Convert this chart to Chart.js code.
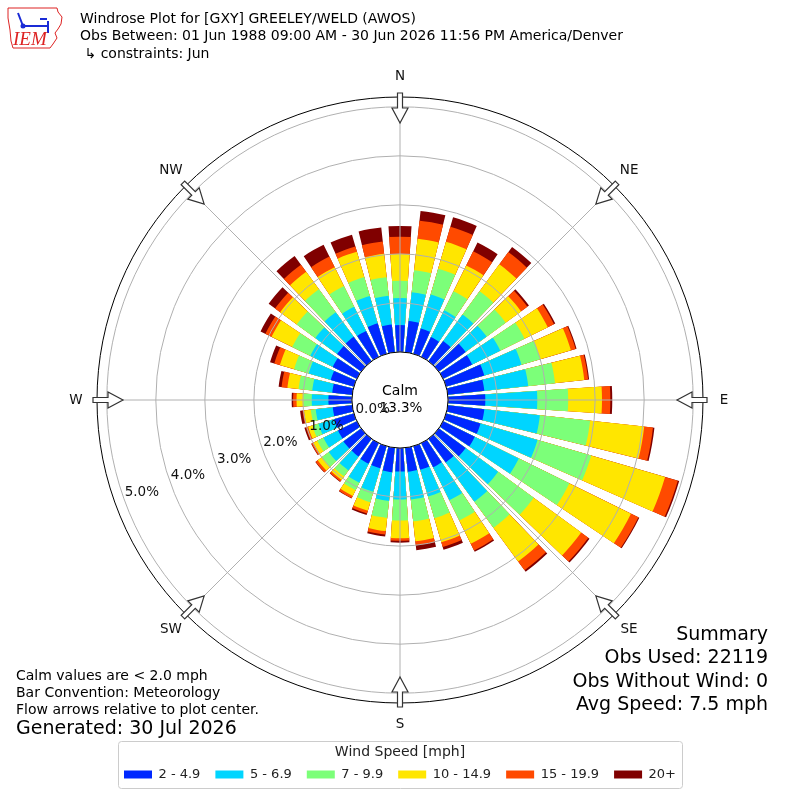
<!DOCTYPE html>
<html>
<head>
<meta charset="utf-8">
<title>Windrose GXY</title>
<script src="https://cdn.jsdelivr.net/npm/chart.js@4.4.1/dist/chart.umd.min.js"></script>
<style>
  html, body { margin: 0; padding: 0; background: #fff; }
  #wrap { width: 800px; height: 800px; }
</style>
</head>
<body>
<div id="wrap"><canvas id="rose" width="800" height="800"></canvas></div>
<script>
// bar centres, degrees clockwise from north (direction wind blows from)
const directions = [0, 10, 20, 30, 40, 50, 60, 70, 80, 90, 100, 110, 120, 130, 140, 150, 160, 170,
  180, 190, 200, 210, 220, 230, 240, 250, 260, 270, 280, 290, 300, 310, 320, 330, 340, 350]

const speedBins = ['2 - 4.9', '5 - 6.9', '7 - 9.9', '10 - 14.9', '15 - 19.9', '20+']
const speedColors = ['#0028ff', '#00d5ff', '#7cff79', '#ffe600', '#ff4a00', '#800000']

// percent of observations in each speed bin, one value per direction
const pct2to5 = [0.55, 0.64, 0.54, 0.45, 0.51, 0.68, 0.66, 0.81, 0.75, 0.76, 0.75, 0.73, 0.72, 0.68, 0.60, 0.55, 0.50, 0.49,
  0.48, 0.50, 0.47, 0.47, 0.45, 0.45, 0.43, 0.42, 0.40, 0.48, 0.41, 0.49, 0.55, 0.61, 0.62, 0.59, 0.65, 0.57]
const pct5to7 = [0.55, 0.59, 0.72, 0.61, 0.67, 0.53, 0.64, 0.79, 0.90, 1.06, 1.14, 1.21, 1.00, 0.82, 0.99, 0.75, 0.57, 0.57,
  0.57, 0.59, 0.50, 0.43, 0.35, 0.37, 0.33, 0.33, 0.35, 0.34, 0.41, 0.47, 0.51, 0.55, 0.62, 0.55, 0.58, 0.59]
const pct7to10 = [0.35, 0.45, 0.55, 0.43, 0.59, 0.48, 0.55, 0.40, 0.55, 0.63, 1.03, 1.14, 1.15, 0.90, 0.66, 0.46, 0.46, 0.45,
  0.43, 0.35, 0.22, 0.17, 0.15, 0.17, 0.14, 0.13, 0.10, 0.17, 0.28, 0.31, 0.41, 0.47, 0.58, 0.47, 0.40, 0.38]
const pct10to15 = [0.55, 0.65, 0.57, 0.59, 0.68, 0.39, 0.53, 0.65, 0.60, 0.69, 1.11, 1.57, 1.40, 1.20, 0.85, 0.53, 0.51, 0.41,
  0.36, 0.27, 0.18, 0.13, 0.09, 0.11, 0.09, 0.09, 0.14, 0.14, 0.23, 0.30, 0.47, 0.42, 0.44, 0.43, 0.54, 0.48]
const pct15to20 = [0.35, 0.37, 0.32, 0.32, 0.31, 0.16, 0.14, 0.10, 0.08, 0.17, 0.18, 0.27, 0.17, 0.18, 0.22, 0.15, 0.10, 0.08,
  0.05, 0.07, 0.06, 0.05, 0.04, 0.05, 0.04, 0.05, 0.03, 0.07, 0.12, 0.12, 0.14, 0.13, 0.18, 0.24, 0.11, 0.25]
const pct20up = [0.22, 0.20, 0.20, 0.20, 0.13, 0.04, 0.03, 0.02, 0.02, 0.04, 0.03, 0.03, 0.02, 0.03, 0.04, 0.03, 0.06, 0.10,
  0.04, 0.04, 0.03, 0.01, 0.01, 0.01, 0.01, 0.03, 0.05, 0.03, 0.06, 0.09, 0.11, 0.16, 0.22, 0.27, 0.25, 0.29]

const ringTicks = [0, 1, 2, 3, 4, 5]
const compassLabels = ['N', 'NE', 'E', 'SE', 'S', 'SW', 'W', 'NW']
const calmPct = 13.3

const titleLines = [
  'Windrose Plot for [GXY] GREELEY/WELD (AWOS)',
  'Obs Between: 01 Jun 1988 09:00 AM - 30 Jun 2026 11:56 PM America/Denver',
  ' \u21b3 constraints: Jun'
]
const noteLines = ['Calm values are < 2.0 mph', 'Bar Convention: Meteorology', 'Flow arrows relative to plot center.']
const generatedLine = 'Generated: 30 Jul 2026'
const summaryLines = ['Summary', 'Obs Used: 22119', 'Obs Without Wind: 0', 'Avg Speed: 7.5 mph']

const FONT = "'DejaVu Sans', sans-serif"
const barAngle = 7.6
const gapAngle = 2.4
const deg = Math.PI / 180

// every direction gets a bar slot and a blank gap slot so the bars stand apart
const labels = []
directions.forEach(d => { labels.push(d + '\u00b0', '') })

const speedSeries = [pct2to5, pct5to7, pct7to10, pct10to15, pct15to20, pct20up]
let running = directions.map(() => 0)
const datasets = speedSeries.map((series, k) => {
  running = running.map((v, i) => v + series[i])
  const data = []
  running.forEach(v => { data.push(+v.toFixed(2), 0) })
  return {
    label: speedBins[k],
    data: data,
    angle: labels.map((_, i) => (i % 2 ? gapAngle : barAngle)),
    backgroundColor: labels.map((_, i) => (i % 2 ? 'rgba(0,0,0,0)' : speedColors[k])),
    borderWidth: 0
  }
})

function at(scale, bearing, r, w) {
  const a = bearing * deg
  w = w || 0
  return [scale.xCenter + r * Math.sin(a) + w * Math.cos(a), scale.yCenter - r * Math.cos(a) + w * Math.sin(a)]
}

function text(ctx, str, x, y, size, align, color) {
  ctx.font = size + 'px ' + FONT
  ctx.textAlign = align || 'left'
  ctx.textBaseline = 'middle'
  ctx.fillStyle = color || '#000'
  ctx.fillText(str, x, y)
}

function drawLogo(ctx) {
  ctx.save()
  ctx.strokeStyle = '#d22'
  ctx.lineWidth = 1
  ctx.beginPath()
  const outline = [[8, 8], [57, 8], [58, 12], [62, 17], [61, 24], [58, 29], [55, 33], [57, 38], [53, 44], [50, 48],
    [13, 48], [11, 41], [10, 30], [8, 18]]
  outline.forEach(([x, y], i) => (i ? ctx.lineTo(x, y) : ctx.moveTo(x, y)))
  ctx.closePath()
  ctx.stroke()
  ctx.strokeStyle = '#1a2bd6'
  ctx.lineWidth = 2
  ctx.beginPath()
  ctx.moveTo(23, 26); ctx.lineTo(49, 26)
  ctx.moveTo(48, 21); ctx.lineTo(48, 33)
  ctx.moveTo(18, 13); ctx.lineTo(23, 26)
  ctx.moveTo(40, 19); ctx.lineTo(47, 19)
  ctx.stroke()
  ctx.fillStyle = '#1a2bd6'
  ctx.beginPath(); ctx.arc(23, 26, 2.5, 0, 2 * Math.PI); ctx.fill()
  ctx.font = "italic 19px 'Liberation Serif', serif"
  ctx.textAlign = 'left'
  ctx.textBaseline = 'alphabetic'
  ctx.fillStyle = '#d22'
  ctx.fillText('IEM', 13, 45)
  ctx.restore()
}

const roseDecor = {
  id: 'roseDecor',
  afterDatasetsDraw(chart) {
    const s = chart.scales.r
    const ctx = chart.ctx
    ctx.save()
    ctx.strokeStyle = '#b0b0b0'
    ctx.lineWidth = 1
    for (let b = 0; b < 360; b += 45) {
      const [x, y] = at(s, b, s.drawingArea)
      ctx.beginPath()
      ctx.moveTo(s.xCenter, s.yCenter)
      ctx.lineTo(x, y)
      ctx.stroke()
    }
    ctx.restore()
  },
  afterDraw(chart) {
    const s = chart.scales.r
    const ctx = chart.ctx
    const R = s.drawingArea
    ctx.save()

    // outer frame
    ctx.strokeStyle = '#000'
    ctx.lineWidth = 1
    ctx.beginPath()
    ctx.arc(s.xCenter, s.yCenter, R, 0, 2 * Math.PI)
    ctx.stroke()

    // calm circle
    const rc = s.getDistanceFromCenterForValue(0)
    ctx.fillStyle = '#fff'
    ctx.beginPath()
    ctx.arc(s.xCenter, s.yCenter, rc, 0, 2 * Math.PI)
    ctx.fill()
    ctx.stroke()
    text(ctx, 'Calm', s.xCenter, s.yCenter - 9, 14, 'center')
    text(ctx, calmPct.toFixed(1) + '%', s.xCenter + 1, s.yCenter + 8, 13.5, 'center')

    // ring labels along a line just below west
    ringTicks.forEach(v => {
      const [x, y] = at(s, 250.3, s.getDistanceFromCenterForValue(v) - 19)
      text(ctx, v.toFixed(1) + '%', x, y, 13.5, 'center', '#111')
    })

    // compass labels and flow arrows
    compassLabels.forEach((lab, i) => {
      const b = i * 45
      const [x, y] = at(s, b, R + 21)
      text(ctx, lab, x, y, 13.5, 'center', '#111')
      const pts = [[-2.5, R + 4], [2.5, R + 4], [2.5, R - 11], [8, R - 11], [0, R - 26], [-8, R - 11], [-2.5, R - 11]]
      ctx.beginPath()
      pts.forEach(([w, r], k) => {
        const [px, py] = at(s, b, r, w)
        k ? ctx.lineTo(px, py) : ctx.moveTo(px, py)
      })
      ctx.closePath()
      ctx.fillStyle = '#fff'
      ctx.fill()
      ctx.strokeStyle = '#333'
      ctx.lineWidth = 1.2
      ctx.stroke()
    })

    // frame round the legend
    const lg = chart.legend
    const hb = lg.legendHitBoxes
    const last = hb[hb.length - 1]
    const x0 = hb[0].left - 6
    const x1 = last.left + last.width + 6
    const y0 = lg.top + 38
    const y1 = lg.top + 85
    ctx.strokeStyle = '#cccccc'
    ctx.lineWidth = 1
    ctx.beginPath()
    ctx.roundRect(x0 + 0.5, y0 + 0.5, x1 - x0, y1 - y0, 3)
    ctx.stroke()

    // header, notes and summary
    drawLogo(ctx)
    titleLines.forEach((t, i) => text(ctx, t, 80, 19 + i * 17.5, 14, 'left', '#000'))
    noteLines.forEach((t, i) => text(ctx, t, 16, 676 + i * 17, 14, 'left', '#000'))
    text(ctx, generatedLine, 16, 729, 19, 'left', '#000')
    summaryLines.forEach((t, i) => text(ctx, t, 768, 635 + i * 23.5, 19, 'right', '#000'))
    ctx.restore()
  }
}

Chart.defaults.font.family = FONT
Chart.defaults.color = '#222'

new Chart(document.getElementById('rose'), {
  type: 'polarArea',
  data: { labels: labels, datasets: datasets },
  options: {
    responsive: false,
    animation: false,
    events: [],
    layout: { padding: { top: 97, left: 97, right: 97, bottom: 9 } },
    scales: {
      r: {
        type: 'radialLinear',
        min: -0.98,
        max: 5.2,
        startAngle: -barAngle / 2,
        afterBuildTicks: scale => { scale.ticks = ringTicks.map(v => ({ value: v })) },
        ticks: { display: false },
        grid: { circular: true, color: '#b0b0b0', lineWidth: 1, z: 1 },
        angleLines: { display: false },
        pointLabels: { display: false }
      }
    },
    plugins: {
      tooltip: { enabled: false },
      legend: {
        position: 'bottom',
        title: {
          display: true,
          text: 'Wind Speed [mph]',
          color: '#222',
          font: { size: 14 },
          padding: { top: 42.5, bottom: -9.3 }
        },
        labels: {
          boxWidth: 28,
          boxHeight: 8,
          padding: 15,
          color: '#222',
          font: { size: 13 },
          generateLabels: chart => chart.data.datasets.map((ds, i) => ({
            text: ds.label,
            fillStyle: speedColors[i],
            strokeStyle: speedColors[i],
            lineWidth: 0,
            hidden: false,
            datasetIndex: i
          }))
        }
      }
    }
  },
  plugins: [roseDecor]
})
</script>
</body>
</html>
